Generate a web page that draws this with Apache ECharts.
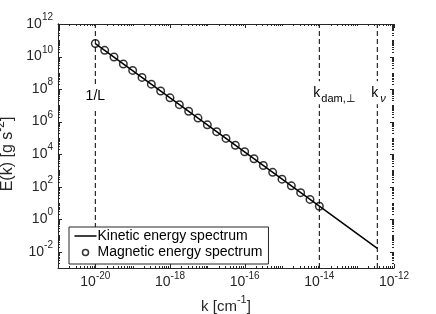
<!DOCTYPE html>
<html>
<head>
<meta charset="utf-8">
<script src="https://cdn.jsdelivr.net/npm/echarts@6/dist/echarts.min.js"></script>
<style>html,body{margin:0;padding:0;background:#fff}#c{width:436px;height:314px}</style>
</head>
<body>
<div id="c"></div>
<script>
// ---- data ----
var seriesNames = ['Kinetic energy spectrum', 'Magnetic energy spectrum'];
var magK = [1e-20, 1.78e-20, 3.16e-20, 5.62e-20,
            1e-19, 1.78e-19, 3.16e-19, 5.62e-19,
            1e-18, 1.78e-18, 3.16e-18, 5.62e-18,
            1e-17, 1.78e-17, 3.16e-17, 5.62e-17,
            1e-16, 1.78e-16, 3.16e-16, 5.62e-16,
            1e-15, 1.78e-15, 3.16e-15, 5.62e-15,
            1e-14];
var magE = [6.3e10, 2.4e10, 9.3e9, 3.5e9,
            1.4e9, 5.2e8, 2.0e8, 7.6e7,
            2.9e7, 1.1e7, 4.3e6, 1.65e6,
            6.3e5, 2.4e5, 9.3e4, 3.5e4,
            1.4e4, 5.2e3, 2.0e3, 760,
            290, 112, 43, 16.5,
            6.3];
var kinK = [1e-20, 1e-14, 3.57e-13];
var kinE = [6.3e10, 6.3, 0.0163];
var markK = [1e-20, 1e-14, 3.57e-13];          // vertical dashed lines
var markText = ['1/L', '{k|k}{sub|dam,\u22a5}', '{k|k}{subi|\u03bd}'];
var xTickExp = [-20, -18, -16, -14, -12];
var yTickExp = [-2, 0, 2, 4, 6, 8, 10, 12];
var xRange = [1e-21, 1e-12];
var yRange = [1e-3, 1e12];

var FONT = '"Liberation Sans", Arial, Helvetica, sans-serif';
var AX = '#262626';

function makeLabel(list) {
  return function (v) {
    var e = Math.round(Math.log10(v));
    if (list.indexOf(e) < 0) return '';
    return '{b|10}{s|' + e + '}';
  };
}
var labelRich = {
  b: {fontSize: 14, fontFamily: FONT, color: AX},
  s: {fontSize: 10, fontFamily: FONT, color: AX, padding: [0, 0, 13, 0]}
};

// tick positions: majors at labelled decades, minors at 1..9 x decade elsewhere
function tickList(e0, e1, majors, wantMajor) {
  var out = [];
  for (var e = e0; e <= e1; e++) {
    for (var m = 1; m <= 9; m++) {
      if (e === e1 && m > 1) break;
      var isMajor = (m === 1 && majors.indexOf(e) >= 0);
      if (isMajor === wantMajor) out.push(m * Math.pow(10, e));
    }
  }
  return out;
}
var xMajor = tickList(-21, -12, xTickExp, true);
var xMinor = tickList(-21, -12, xTickExp, false);
var yMajor = tickList(-3, 12, yTickExp, true);
var yMinor = tickList(-3, 12, yTickExp, false);

function axisCommon(pos, showLabel, isX) {
  var r = isX ? xRange : yRange;
  return {
    type: 'log', logBase: 10, position: pos,
    min: r[0], max: r[1],
    interval: 1,
    axisLine: {show: true, lineStyle: {color: AX, width: 1}},
    axisTick: {show: false},
    splitLine: {show: false},
    axisLabel: {show: showLabel, showMinLabel: false, hideOverlap: false,
                formatter: makeLabel(isX ? xTickExp : yTickExp), rich: labelRich,
                margin: isX ? 3 : 5},
    z: 5
  };
}

var xa0 = axisCommon('bottom', true, true);
xa0.name = 'k [cm{s|-1}]';
xa0.nameLocation = 'middle';
xa0.nameGap = 26;
xa0.nameTextStyle = {fontSize: 15, fontFamily: FONT, color: AX,
  rich: {s: {fontSize: 11, fontFamily: FONT, color: AX, padding: [0, 0, 13, 0]}}};
var xa1 = axisCommon('top', false, true);
var ya0 = axisCommon('left', true, false);
ya0.name = 'E(k) [g s{s|-2}]';
ya0.nameLocation = 'middle';
ya0.nameGap = 35;
ya0.nameTextStyle = {fontSize: 16, fontFamily: FONT, color: AX, padding: [0, 16, 0, 0],
  rich: {s: {fontSize: 12, fontFamily: FONT, color: AX, padding: [0, 0, 13, 0]}}};
var ya1 = axisCommon('right', false, false);

function tickRender(isX, L) {
  return function (params, api) {
    var cs = params.coordSys;
    var v = api.value(isX ? 0 : 1);
    var p = api.coord(isX ? [v, 1] : [1e-20, v]);
    var st = {stroke: AX, lineWidth: 1};
    if (isX) {
      var x = Math.round(p[0]) + 0.5;
      return {type: 'group', children: [
        {type: 'line', shape: {x1: x, y1: cs.y + cs.height, x2: x, y2: cs.y + cs.height - L}, style: st},
        {type: 'line', shape: {x1: x, y1: cs.y, x2: x, y2: cs.y + L}, style: st}
      ]};
    } else {
      var y = Math.round(p[1]) + 0.5;
      return {type: 'group', children: [
        {type: 'line', shape: {x1: cs.x, y1: y, x2: cs.x + L, y2: y}, style: st},
        {type: 'line', shape: {x1: cs.x + cs.width, y1: y, x2: cs.x + cs.width - L, y2: y}, style: st}
      ]};
    }
  };
}
function tickSeries(list, isX, L) {
  return {
    type: 'custom', renderItem: tickRender(isX, L), silent: true, clip: false,
    data: list.map(function (v) { return isX ? [v, 1] : [1e-20, v]; }), z: 5
  };
}

var circleIcon = 'path://M0 0M20 12M10 6m-3 0a3 3 0 1 0 6 0a3 3 0 1 0 -6 0z';
var lineIcon = 'path://M0 5.25h22v1.5h-22z';

var markY = [3.76e7, 6.0e7, 6.0e7];

var series = [
  {
    name: seriesNames[0], type: 'line',
    data: kinK.map(function (k, i) { return [k, kinE[i]]; }),
    showSymbol: false, symbol: 'none',
    lineStyle: {color: '#000', width: 1.5},
    itemStyle: {color: '#000'},
    z: 3,
    markPoint: {
      silent: true, symbol: 'circle', symbolSize: 0,
      itemStyle: {color: 'transparent'},
      data: markK.map(function (k, i) {
        return {
          coord: [k, markY[i]],
          label: {
            show: true, position: 'inside', formatter: markText[i],
            align: i === 0 ? 'center' : 'left',
            offset: i === 0 ? [0, 0] : [-7, 0],
            backgroundColor: '#fff',
            padding: i === 0 ? [5, 1, 5, 1] : [0, 1, 0, 1],
            color: '#000', fontSize: 14, fontFamily: FONT,
            rich: {
              k: {fontSize: 14, fontFamily: FONT, color: '#000'},
              sub: {fontSize: 11, fontFamily: FONT, color: '#000', padding: [12, 0, 0, 1]},
              subi: {fontSize: 11, fontFamily: FONT, fontStyle: 'italic', color: '#000', padding: [12, 0, 0, 2]}
            }
          }
        };
      })
    }
  },
  {
    name: seriesNames[1], type: 'scatter',
    data: magK.map(function (k, i) { return [k, magE[i]]; }),
    symbol: 'circle', symbolSize: 7.5,
    itemStyle: {color: 'none', borderColor: '#000', borderWidth: 1.5},
    z: 4
  },
  tickSeries(xMajor, true, 4),
  tickSeries(xMinor, true, 2),
  tickSeries(yMajor, false, 4),
  tickSeries(yMinor, false, 2)
];
// vertical dashed reference lines
markK.forEach(function (k) {
  series.push({
    type: 'line', data: [[k, yRange[0]], [k, yRange[1]]],
    showSymbol: false, symbol: 'none', silent: true,
    lineStyle: {color: '#000', width: 1, type: [5, 3]}, z: 2
  });
});

var option = {
  animation: false,
  backgroundColor: '#fff',
  textStyle: {fontFamily: FONT},
  grid: {left: 58, right: 42, top: 24, bottom: 46, containLabel: false, outerBoundsMode: 'none'},
  xAxis: [xa0, xa1],
  yAxis: [ya0, ya1],
  legend: {
    orient: 'vertical', left: 69, top: 227,
    backgroundColor: '#fff', borderColor: AX, borderWidth: 1,
    padding: [2, 6, 3, 4], itemGap: 1, itemWidth: 22, itemHeight: 12,
    textStyle: {fontSize: 14, fontFamily: FONT, color: '#000', padding: [0, 0, 0, -4]},
    data: [
      {name: seriesNames[0], icon: lineIcon, itemStyle: {color: '#000', borderWidth: 0}},
      {name: seriesNames[1], icon: circleIcon,
       itemStyle: {color: 'none', borderColor: '#000', borderWidth: 1.5}}
    ],
    z: 20
  },
  series: series
};

var chart = echarts.init(document.getElementById('c'), null, {renderer: 'canvas'});
chart.setOption(option);
</script>
</body>
</html>
